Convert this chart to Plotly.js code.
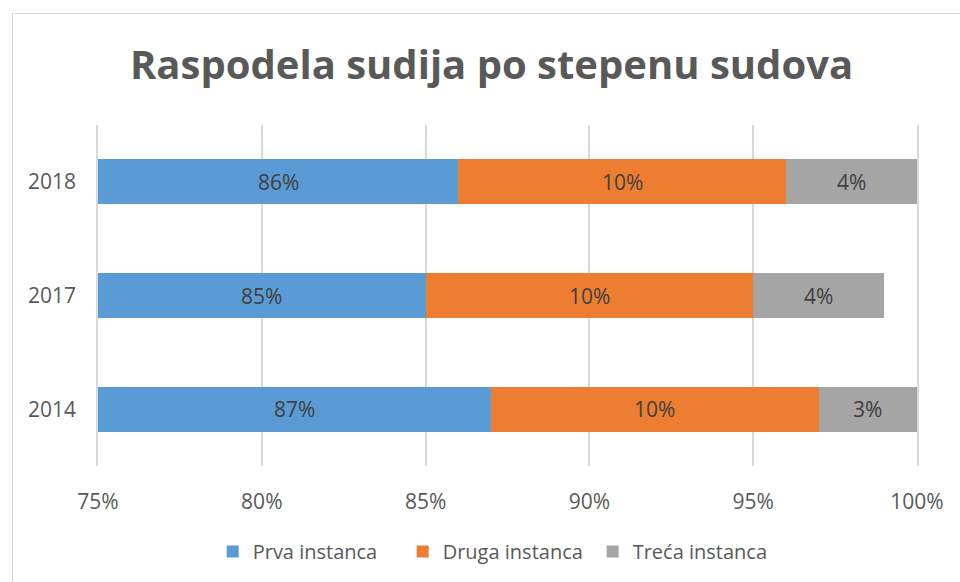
<!DOCTYPE html>
<html><head><meta charset="utf-8">
<script src="https://cdn.plot.ly/plotly-3.0.1.min.js"></script>
<style>
body{margin:0;background:#fff;}
#frame{position:absolute;left:12px;top:13px;width:1000px;height:640px;border:1.5px solid #d9d9d9;pointer-events:none;}
#chart{position:absolute;left:0;top:0;width:960px;height:582px;}
</style></head>
<body>
<div id="frame"></div>
<div id="chart"></div>
<script>
const years = ['2014', '2017', '2018'];
const prva = [87, 85, 86];
const druga = [10, 10, 10];
const treca = [3, 4, 4];
const seriesNames = ['Prva instanca', 'Druga instanca', 'Treća instanca'];
const colors = ['#5b9bd5', '#ed7d31', '#a5a5a5'];
const xTicks = [75, 80, 85, 90, 95, 100];
const xMin = 75, xMax = 100;

const FONT = 'Open Sans, sans-serif';
const allSeries = [prva, druga, treca];
const traces = allSeries.map((vals, i) => ({
  type: 'bar', orientation: 'h', name: seriesNames[i],
  y: years.slice(), x: vals.slice(),
  marker: {color: colors[i]},
  textposition: 'none'
}));

// data labels centred on the visible part of each segment
const annotations = [];
years.forEach((yr, j) => {
  let cum = 0;
  allSeries.forEach((vals, i) => {
    const start = cum, end = cum + vals[j];
    cum = end;
    const a = Math.max(start, xMin), b = Math.min(end, xMax);
    if (b > a) annotations.push({
      x: (a + b) / 2, y: j, xref: 'x', yref: 'y', text: vals[j] + '%',
      showarrow: false, font: {family: FONT, size: 21, color: '#404040'}
    });
  });
});

const layout = {
  width: 960, height: 582,
  paper_bgcolor: 'rgba(0,0,0,0)', plot_bgcolor: 'rgba(0,0,0,0)',
  margin: {l: 98, r: 43, t: 125, b: 115},
  barmode: 'stack', bargap: 0.605,
  title: {text: 'Raspodela sudija po stepenu sudova', x: 0.512, xanchor: 'center', y: 0.888, yanchor: 'middle',
    font: {family: FONT, size: 40, color: '#595959', weight: 'bold'}},
  xaxis: {range: [xMin, xMax], tickvals: xTicks, ticktext: xTicks.map(v => v + '%'),
    showgrid: true, gridcolor: '#d9d9d9', gridwidth: 1.5, zeroline: false, showline: false,
    ticks: 'outside', ticklen: 17, tickcolor: 'rgba(0,0,0,0)',
    tickfont: {family: FONT, size: 21, color: '#595959'}},
  yaxis: {type: 'category',
    showgrid: false, zeroline: false, showline: true, mirror: true, linecolor: '#d9d9d9', linewidth: 1.5,
    ticks: 'outside', ticklen: 16, tickcolor: 'rgba(0,0,0,0)',
    tickfont: {family: FONT, size: 21, color: '#595959'}},
  legend: {orientation: 'h', x: 0.488, xanchor: 'center', y: -0.19, yanchor: 'top',
    entrywidth: 145, entrywidthmode: 'pixels',
    font: {family: FONT, size: 20, color: '#595959'}, traceorder: 'normal'},
  annotations: annotations,
  showlegend: true
};
Plotly.newPlot('chart', traces, layout, {displayModeBar: false});
</script>
</body></html>
